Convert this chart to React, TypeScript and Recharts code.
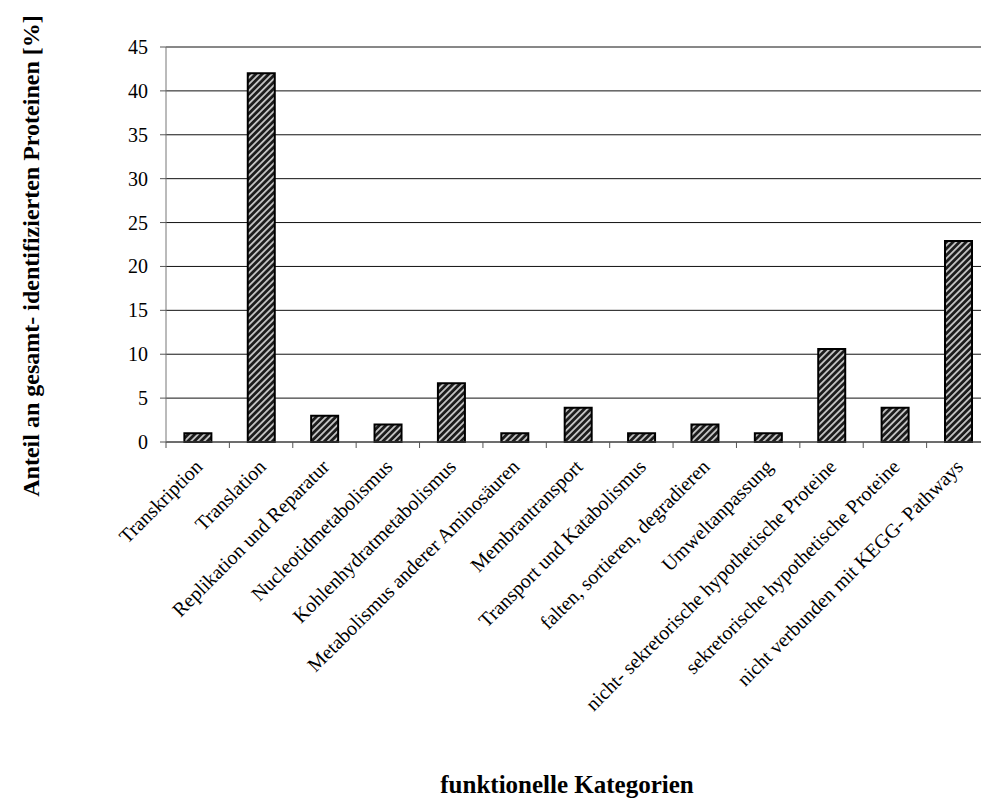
import React from 'react';
import { BarChart, Bar, XAxis, YAxis, CartesianGrid } from 'recharts';

const categories = [
  'Transkription',
  'Translation',
  'Replikation und Reparatur',
  'Nucleotidmetabolismus',
  'Kohlenhydratmetabolismus',
  'Metabolismus anderer Aminosäuren',
  'Membrantransport',
  'Transport und Katabolismus',
  'falten, sortieren, degradieren',
  'Umweltanpassung',
  'nicht- sekretorische hypothetische Proteine',
  'sekretorische hypothetische Proteine',
  'nicht verbunden mit KEGG- Pathways',
];

const anteil = [1, 42, 3, 2, 6.7, 1, 3.9, 1, 2, 1, 10.6, 3.9, 22.9];

const yTicks = [0, 5, 10, 15, 20, 25, 30, 35, 40, 45];

const data = categories.map((name, i) => ({ name, value: anteil[i] }));

const FONT = '"Liberation Serif", "Times New Roman", serif';
const CHART_W = 1000;
const CHART_H = 801;
const MARGIN = { top: 47, right: 10, left: 0, bottom: 0 };
const Y_AXIS_W = 166;
const X_AXIS_H = 359;
const band = (CHART_W - MARGIN.left - MARGIN.right - Y_AXIS_W) / categories.length;

// category label rotated 45°, plus the separator tick on the left of each band
const CategoryTick = (props: any) => {
  const { x, y, payload } = props;
  const axisY = CHART_H - X_AXIS_H;
  const ax = x + 6;
  const ay = y + 18;
  return (
    <g>
      <line x1={x - band / 2} y1={axisY} x2={x - band / 2} y2={axisY + 6} stroke="#555" />
      <text
        x={ax}
        y={ay}
        textAnchor="end"
        transform={`rotate(-45, ${ax}, ${ay})`}
        fontFamily={FONT}
        fontSize={20}
        fill="#000"
      >
        {payload.value}
      </text>
    </g>
  );
};

const ValueTick = (props: any) => {
  const { x, y, payload } = props;
  return (
    <text x={x} y={y} dy={7} textAnchor="end" fontFamily={FONT} fontSize={20} fill="#000">
      {payload.value}
    </text>
  );
};

export default function App() {
  return (
    <div
      style={{
        position: 'absolute',
        left: 0,
        top: 0,
        width: 981,
        height: 801,
        overflow: 'hidden',
        background: '#fff',
      }}
    >
      <BarChart width={CHART_W} height={CHART_H} data={data} margin={MARGIN} barCategoryGap="29%">
        <defs>
          <pattern
            id="hatch"
            patternUnits="userSpaceOnUse"
            width={4.6}
            height={4.6}
            patternTransform="rotate(45)"
          >
            <rect x={0} y={0} width={4.6} height={4.6} fill="#1c1c1c" />
            <rect x={0} y={0} width={1.8} height={4.6} fill="#c4c4c4" />
          </pattern>
        </defs>
        <CartesianGrid vertical={false} stroke="#111" strokeWidth={1} />
        <XAxis
          dataKey="name"
          interval={0}
          height={X_AXIS_H}
          tickLine={false}
          axisLine={{ stroke: '#555' }}
          tick={<CategoryTick />}
        />
        <YAxis
          width={Y_AXIS_W}
          domain={[0, 45]}
          ticks={yTicks}
          interval={0}
          tickSize={6}
          tickLine={{ stroke: '#555' }}
          axisLine={{ stroke: '#777' }}
          tick={<ValueTick />}
          tickMargin={12}
        />
        <Bar dataKey="value" fill="url(#hatch)" stroke="#000" strokeWidth={2} isAnimationActive={false} />
      </BarChart>
      <div
        style={{
          position: 'absolute',
          left: 31,
          top: 256,
          transform: 'translate(-50%, -50%) rotate(-90deg)',
          whiteSpace: 'nowrap',
          fontFamily: FONT,
          fontWeight: 'bold',
          fontSize: 24,
        }}
      >
        Anteil an gesamt- identifizierten Proteinen [%]
      </div>
      <div
        style={{
          position: 'absolute',
          left: 567,
          top: 785,
          transform: 'translate(-50%, -50%)',
          whiteSpace: 'nowrap',
          fontFamily: FONT,
          fontWeight: 'bold',
          fontSize: 25,
        }}
      >
        funktionelle Kategorien
      </div>
    </div>
  );
}
